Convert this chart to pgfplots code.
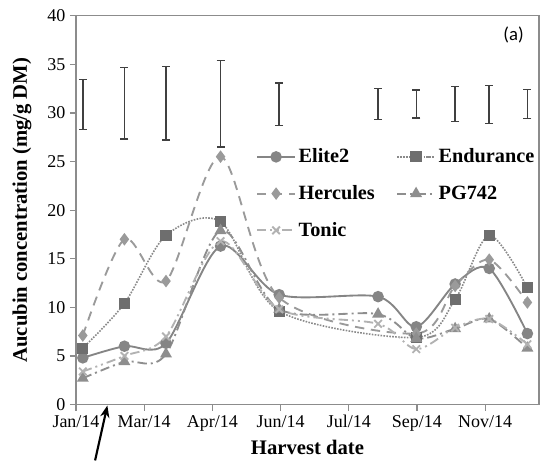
\documentclass[border=0pt]{standalone}
\usepackage{pgfplots}
\pgfplotsset{compat=1.18}
\usepackage{fontspec}
\setmainfont{Liberation Serif}
\newfontfamily\calfont{Carlito}
\usetikzlibrary{arrows.meta,calc}

\definecolor{axgray}{HTML}{8C8C8C}
\definecolor{barcol}{HTML}{404040}
\definecolor{elite}{HTML}{858585}
\definecolor{endur}{HTML}{6E6E6E}
\definecolor{endurl}{HTML}{8A8A8A}
\definecolor{herc}{HTML}{9A9A9A}
\definecolor{pg}{HTML}{8E8E8E}
\definecolor{tonic}{HTML}{B2B2B2}

\begin{document}
\begin{tikzpicture}
\begin{axis}[
    scale only axis,
    width=347.25pt, height=291.6pt,
    xmin=0, xmax=6.79, ymin=0, ymax=40,
    xtick={0,1,2,3,4,5,6},
    xticklabels={Jan/14,Mar/14,Apr/14,Jun/14,Jul/14,Sep/14,Nov/14},
    ytick={0,5,...,40},
    tick align=outside, major tick length=4.5pt,
    xtick pos=bottom, ytick pos=left,
    axis line style={axgray, line width=0.9pt},
    tick style={axgray, line width=0.9pt},
    ticklabel style={font=\fontsize{13.5}{13.5}\selectfont},
    /pgf/number format/assume math mode=true,
    xlabel={\textbf{Harvest date}},
    ylabel={\textbf{Aucubin concentration (mg/g DM)}},
    label style={font=\fontsize{15.5}{15.5}\selectfont},
    ylabel style={yshift=5pt},
    clip=false,
    legend columns=2,
    legend cell align=left,
    legend style={at={(0.38,0.672)}, anchor=north west, draw=none, fill=none,
      font=\fontsize{15.2}{15.2}\selectfont\bfseries,
      /tikz/every even column/.append style={column sep=14pt},
      row sep=11.5pt},
    legend image code/.code={\draw[mark repeat=2,mark phase=2] plot coordinates {(0cm,0cm) (0.5cm,0cm) (1cm,0cm)};},
]

% LSD bars
\addplot[draw=none, mark=none, forget plot,
  error bars/.cd, y dir=both, y explicit,
  error bar style={barcol, line width=1.1pt},
  error mark options={rotate=90, mark size=3pt, barcol, line width=1.1pt}]
  coordinates {
  (0.10,30.88) +- (0,2.58)
  (0.71,30.98) +- (0,3.68)
  (1.32,30.98) +- (0,3.78)
  (2.12,30.95) +- (0,4.45)
  (2.98,30.90) +- (0,2.20)
  (4.43,30.90) +- (0,1.60)
  (4.99,30.93) +- (0,1.43)
  (5.56,30.90) +- (0,1.80)
  (6.06,30.85) +- (0,1.95)
  (6.62,30.90) +- (0,1.50)
  };

\addplot[elite, line width=1.4pt, smooth, tension=0.5, mark=*, mark size=3.6pt,
  mark options={solid, fill=elite, draw=elite}]
  coordinates {(0.10,4.8) (0.71,6.0) (1.32,6.3) (2.12,16.3) (2.98,11.3) (4.43,11.1) (4.99,8.0) (5.56,12.4) (6.06,14.0) (6.62,7.3)};
\addlegendentry{Elite2}

\addplot[endurl, line width=1.2pt, densely dotted, smooth, tension=0.5, mark=square*, mark size=3.6pt,
  mark options={solid, fill=endur, draw=endur}]
  coordinates {(0.10,5.8) (0.71,10.4) (1.32,17.4) (2.12,18.8) (2.98,9.6) (4.99,6.9) (5.56,10.8) (6.06,17.4) (6.62,12.0)};
\addlegendentry{Endurance}

\addplot[herc, line width=1.4pt, dash pattern=on 7pt off 5pt, smooth, tension=0.5, mark=diamond*, mark size=3.6pt,
  mark options={solid, fill=herc, draw=herc}]
  coordinates {(0.10,7.1) (0.71,17.0) (1.32,12.7) (2.12,25.5) (2.98,11.0) (4.99,7.3) (5.56,12.2) (6.06,14.9) (6.62,10.5)};
\addlegendentry{Hercules}

\addplot[pg, line width=1.4pt, dash pattern=on 7pt off 3pt on 1.5pt off 3pt, smooth, tension=0.5, mark=triangle*, mark size=3.8pt,
  mark options={solid, fill=pg, draw=pg}]
  coordinates {(0.10,2.7) (0.71,4.4) (1.32,5.2) (2.12,17.9) (2.98,9.8) (4.43,9.3) (4.99,6.8) (5.56,7.8) (6.06,8.8) (6.62,5.8)};
\addlegendentry{PG742}

\addplot[tonic, line width=1.4pt, dash pattern=on 7pt off 3pt on 1.5pt off 3pt on 1.5pt off 3pt, smooth, tension=0.5, mark=x, mark size=4pt,
  mark options={solid, draw=tonic, line width=1.4pt}]
  coordinates {(0.10,3.4) (0.71,5.0) (1.32,7.0) (2.12,16.8) (2.98,9.8) (4.43,8.3) (4.99,5.7) (5.56,7.9) (6.06,8.8) (6.62,6.2)};
\addlegendentry{Tonic}

\node[font=\calfont\fontsize{14}{14}\selectfont] at (rel axis cs:0.945,0.951) {(a)};
\draw[-{Stealth[length=9pt,width=7pt]}, line width=1.6pt, black] (axis cs:0.28,-5.75) -- (axis cs:0.46,-0.1);
\end{axis}
\pgfresetboundingbox
\path[use as bounding box] ($(current axis.south west)+(-57pt,-42.4pt)$) rectangle ($(current axis.north east)+(2.25pt,11.8pt)$);
\end{tikzpicture}
\end{document}
